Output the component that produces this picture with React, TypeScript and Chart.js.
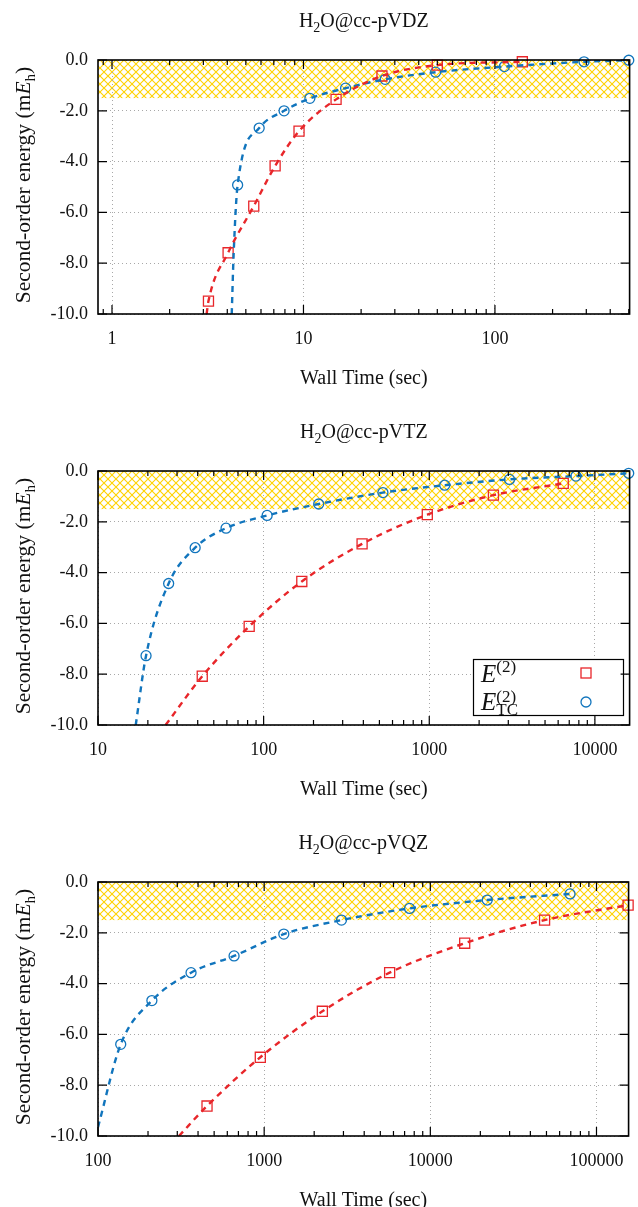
import React, { useEffect, useRef } from "react";
import { Chart, registerables } from "chart.js";

Chart.register(...registerables);

// ---------------- data ----------------
const vdzTitle = "cc-pVDZ";
const vdzXTicks = [1, 10, 100];
const vdzE2Times = [3.19, 4.04, 5.5, 7.11, 9.48, 14.8, 25.7, 50, 139];
const vdzE2 = [-9.49, -7.59, -5.75, -4.17, -2.8, -1.55, -0.63, -0.2, -0.07];
const vdzTCTimes = [4.53, 5.87, 7.92, 10.8, 16.6, 26.7, 49, 112, 292, 500];
const vdzTC = [-4.92, -2.68, -2.0, -1.51, -1.11, -0.76, -0.48, -0.26, -0.07, -0.01];
const vdzE2FitTimes = [3.12, 3.19, 4.04, 5.5, 7.11, 9.48, 14.8, 25.7, 50, 139];
const vdzE2Fit = [-10.0, -9.49, -7.59, -5.75, -4.17, -2.8, -1.55, -0.63, -0.2, -0.07];
const vdzTCFitTimes = [4.22, 4.32, 4.53, 5.87, 7.92, 10.8, 16.6, 26.7, 49, 112, 292, 500];
const vdzTCFit = [-10.0, -7.6, -4.92, -2.68, -2.0, -1.51, -1.11, -0.76, -0.48, -0.26, -0.07, -0.01];

const vtzTitle = "cc-pVTZ";
const vtzXTicks = [10, 100, 1000, 10000];
const vtzE2Times = [42.6, 81.8, 170, 393, 973, 2440, 6440];
const vtzE2 = [-8.08, -6.12, -4.35, -2.87, -1.72, -0.95, -0.49];
const vtzTCTimes = [19.5, 26.7, 38.6, 59.3, 105, 215, 525, 1240, 3050, 7680, 16000];
const vtzTC = [-7.27, -4.43, -3.02, -2.25, -1.75, -1.3, -0.85, -0.56, -0.33, -0.2, -0.09];
const vtzE2FitTimes = [25.6, 42.6, 81.8, 170, 393, 973, 2440, 6440];
const vtzE2Fit = [-10.0, -8.08, -6.12, -4.35, -2.87, -1.72, -0.95, -0.49];
const vtzTCFitTimes = [16.9, 19.5, 26.7, 38.6, 59.3, 105, 215, 525, 1240, 3050, 7680, 16000];
const vtzTCFit = [-10.0, -7.27, -4.43, -3.02, -2.25, -1.75, -1.3, -0.85, -0.56, -0.33, -0.2, -0.09];

const vqzTitle = "cc-pVQZ";
const vqzXTicks = [100, 1000, 10000, 100000];
const vqzE2Times = [453, 948, 2240, 5690, 16100, 48700, 155000];
const vqzE2 = [-8.82, -6.9, -5.09, -3.57, -2.41, -1.5, -0.91];
const vqzTCTimes = [137, 211, 363, 659, 1313, 2920, 7500, 22000, 69300];
const vqzTC = [-6.39, -4.67, -3.57, -2.91, -2.05, -1.5, -1.04, -0.71, -0.47];
const vqzE2FitTimes = [307, 453, 948, 2240, 5690, 16100, 48700, 155000];
const vqzE2Fit = [-10.0, -8.82, -6.9, -5.09, -3.57, -2.41, -1.5, -0.91];
const vqzTCFitTimes = [100, 137, 211, 363, 659, 1313, 2920, 7500, 22000, 69300];
const vqzTCFit = [-9.65, -6.39, -4.67, -3.57, -2.91, -2.05, -1.5, -1.04, -0.71, -0.47];

const yTicks = [0, -2, -4, -6, -8, -10];
const hatchLimit = -1.5;

// ---------------- style ----------------
const FONT = "'Liberation Serif', 'DejaVu Serif', serif";
const RED = "#e8262a";
const BLUE = "#1175bd";
const GOLD = "#ffd200";
const GRID = "#a8a8a8";
const PANEL_H = 411;
const PANEL_W = 638;

type Seg = { t: string; size: number; italic?: boolean; dy?: number };

function drawRich(ctx: CanvasRenderingContext2D, segs: Seg[], x: number, y: number, align: "center" | "left") {
  ctx.save();
  ctx.textBaseline = "alphabetic";
  ctx.textAlign = "left";
  let total = 0;
  const widths = segs.map((s) => {
    ctx.font = `${s.italic ? "italic " : ""}${s.size}px ${FONT}`;
    const w = ctx.measureText(s.t).width;
    total += w;
    return w;
  });
  let cx = align === "center" ? x - total / 2 : x;
  segs.forEach((s, i) => {
    ctx.font = `${s.italic ? "italic " : ""}${s.size}px ${FONT}`;
    ctx.fillText(s.t, cx, y + (s.dy || 0));
    cx += widths[i];
  });
  ctx.restore();
}

function minorTicks(min: number, max: number): { v: number; major: boolean }[] {
  const out: { v: number; major: boolean }[] = [];
  const lo = Math.floor(Math.log10(min));
  const hi = Math.ceil(Math.log10(max));
  for (let e = lo; e <= hi; e++) {
    for (let m = 1; m <= 9; m++) {
      const v = m * Math.pow(10, e);
      if (v >= min * 0.999 && v <= max * 1.001) out.push({ v, major: m === 1 });
    }
  }
  return out;
}

type Panel = {
  title: string;
  xMin: number;
  xMax: number;
  xTicks: number[];
  e2T: number[];
  e2: number[];
  tcT: number[];
  tc: number[];
  e2FitT: number[];
  e2Fit: number[];
  tcFitT: number[];
  tcFit: number[];
  legend: boolean;
};

const panels: Panel[] = [
  { title: vdzTitle, xMin: 0.845, xMax: 505, xTicks: vdzXTicks, e2T: vdzE2Times, e2: vdzE2, tcT: vdzTCTimes, tc: vdzTC, e2FitT: vdzE2FitTimes, e2Fit: vdzE2Fit, tcFitT: vdzTCFitTimes, tcFit: vdzTCFit, legend: false },
  { title: vtzTitle, xMin: 10, xMax: 16200, xTicks: vtzXTicks, e2T: vtzE2Times, e2: vtzE2, tcT: vtzTCTimes, tc: vtzTC, e2FitT: vtzE2FitTimes, e2Fit: vtzE2Fit, tcFitT: vtzTCFitTimes, tcFit: vtzTCFit, legend: true },
  { title: vqzTitle, xMin: 100, xMax: 156000, xTicks: vqzXTicks, e2T: vqzE2Times, e2: vqzE2, tcT: vqzTCTimes, tc: vqzTC, e2FitT: vqzE2FitTimes, e2Fit: vqzE2Fit, tcFitT: vqzTCFitTimes, tcFit: vqzTCFit, legend: false },
];

const pts = (xs: number[], ys: number[]) => xs.map((x, i) => ({ x, y: ys[i] }));

function makeDecor(p: Panel) {
  return {
    id: "decor",
    beforeDraw(chart: any) {
      const { ctx, chartArea: a, scales } = chart;
      const c = document.createElement("canvas");
      c.width = 8;
      c.height = 8;
      const g = c.getContext("2d")!;
      g.strokeStyle = GOLD;
      g.lineWidth = 1.1;
      g.beginPath();
      g.moveTo(0, 0);
      g.lineTo(8, 8);
      g.moveTo(8, 0);
      g.lineTo(0, 8);
      g.stroke();
      const pat = ctx.createPattern(c, "repeat");
      const y0 = scales.y.getPixelForValue(0);
      const y1 = scales.y.getPixelForValue(hatchLimit);
      ctx.save();
      ctx.beginPath();
      ctx.rect(a.left, a.top, a.right - a.left, a.bottom - a.top);
      ctx.clip();
      ctx.fillStyle = pat;
      ctx.fillRect(a.left, y0, a.right - a.left, y1 - y0);
      ctx.restore();
    },
    afterDraw(chart: any) {
      const { ctx, chartArea: a, scales } = chart;
      const cxm = (a.left + a.right) / 2;
      ctx.save();
      ctx.fillStyle = "#111";
      // title
      drawRich(ctx, [{ t: "H", size: 20 }, { t: "2", size: 14, dy: 5 }, { t: "O@" + p.title, size: 20 }], cxm, 27, "center");
      // x label
      drawRich(ctx, [{ t: "Wall Time (sec)", size: 20 }], cxm, 384, "center");
      // y label
      ctx.save();
      ctx.translate(30, (a.top + a.bottom) / 2 - 2);
      ctx.rotate(-Math.PI / 2);
      drawRich(
        ctx,
        [
          { t: "Second-order energy (m", size: 21.5 },
          { t: "E", size: 21.5, italic: true },
          { t: "h", size: 15, dy: 5 },
          { t: ")", size: 21.5 },
        ],
        0,
        0,
        "center"
      );
      ctx.restore();

      // legend
      if (p.legend) {
        const bx = 473, by = 248, bw = 150, bh = 56;
        ctx.fillStyle = "#fff";
        ctx.fillRect(bx, by, bw, bh);
        ctx.strokeStyle = "#000";
        ctx.lineWidth = 1.2;
        ctx.strokeRect(bx + 0.5, by + 0.5, bw, bh);
        ctx.fillStyle = "#111";
        drawRich(ctx, [{ t: "E", size: 25, italic: true }, { t: "(2)", size: 17, dy: -10 }], bx + 8, by + 23, "left");
        drawRich(ctx, [{ t: "E", size: 25, italic: true }], bx + 8, by + 51, "left");
        ctx.font = `italic 25px ${FONT}`;
        const ew = ctx.measureText("E").width;
        drawRich(ctx, [{ t: "(2)", size: 17 }], bx + 8 + ew, by + 43, "left");
        drawRich(ctx, [{ t: "TC", size: 17 }], bx + 8 + ew, by + 56, "left");
        ctx.strokeStyle = RED;
        ctx.lineWidth = 1.3;
        ctx.strokeRect(bx + 108, by + 9, 10, 10);
        ctx.strokeStyle = BLUE;
        ctx.beginPath();
        ctx.arc(bx + 113, by + 43, 5, 0, Math.PI * 2);
        ctx.stroke();
      }

      // frame
      ctx.strokeStyle = "#000";
      ctx.lineWidth = 1.6;
      ctx.strokeRect(a.left, a.top, a.right - a.left, a.bottom - a.top);
      ctx.lineWidth = 1.2;
      ctx.beginPath();
      yTicks.forEach((v) => {
        const y = scales.y.getPixelForValue(v);
        ctx.moveTo(a.left, y);
        ctx.lineTo(a.left + 9, y);
        ctx.moveTo(a.right, y);
        ctx.lineTo(a.right - 9, y);
      });
      minorTicks(p.xMin, p.xMax).forEach(({ v, major }) => {
        const x = scales.x.getPixelForValue(v);
        const len = major ? 9 : 5;
        ctx.moveTo(x, a.bottom);
        ctx.lineTo(x, a.bottom - len);
        ctx.moveTo(x, a.top);
        ctx.lineTo(x, a.top + len);
      });
      ctx.stroke();
      ctx.restore();
    },
  };
}

function PanelChart({ p, top }: { p: Panel; top: number }) {
  const ref = useRef<HTMLCanvasElement | null>(null);
  useEffect(() => {
    if (!ref.current) return;
    const chart = new Chart(ref.current, {
      type: "scatter",
      data: {
        datasets: [
          {
            data: pts(p.e2FitT, p.e2Fit),
            showLine: true,
            pointRadius: 0,
            borderColor: RED,
            borderWidth: 2.4,
            borderDash: [6, 5],
            cubicInterpolationMode: "monotone",
            fill: false,
          } as any,
          {
            data: pts(p.tcFitT, p.tcFit),
            showLine: true,
            pointRadius: 0,
            borderColor: BLUE,
            borderWidth: 2.4,
            borderDash: [6, 5],
            cubicInterpolationMode: "monotone",
            fill: false,
          } as any,
          {
            data: pts(p.e2T, p.e2),
            showLine: false,
            clip: false,
            pointStyle: "rect",
            pointRadius: 7.1,
            pointBorderWidth: 1.3,
            pointBorderColor: RED,
            pointBackgroundColor: "rgba(0,0,0,0)",
          } as any,
          {
            data: pts(p.tcT, p.tc),
            showLine: false,
            clip: false,
            pointStyle: "circle",
            pointRadius: 5,
            pointBorderWidth: 1.3,
            pointBorderColor: BLUE,
            pointBackgroundColor: "rgba(0,0,0,0)",
          } as any,
        ],
      },
      options: {
        responsive: false,
        animation: false,
        events: [],
        layout: { padding: { top: 60, right: 6, left: 0, bottom: 0 } },
        plugins: { legend: { display: false }, tooltip: { enabled: false }, title: { display: false } },
        scales: {
          x: {
            type: "logarithmic",
            position: "bottom",
            min: p.xMin,
            max: p.xMax,
            afterBuildTicks: (s: any) => {
              s.ticks = p.xTicks.map((v) => ({ value: v, major: true }));
            },
            afterFit: (s: any) => {
              s.height = PANEL_H - 314;
            },
            ticks: {
              autoSkip: false,
              maxRotation: 0,
              padding: 14,
              color: "#111",
              font: { family: FONT, size: 18 },
              callback: (v: any) => String(v),
            },
            grid: { color: GRID, lineWidth: 1, drawTicks: false },
            border: { display: false, dash: [1, 3] },
          },
          y: {
            type: "linear",
            min: -10,
            max: 0,
            afterBuildTicks: (s: any) => {
              s.ticks = yTicks.map((v) => ({ value: v }));
            },
            afterFit: (s: any) => {
              s.width = 98;
            },
            ticks: {
              padding: 10,
              color: "#111",
              font: { family: FONT, size: 18 },
              callback: (v: any) => Number(v).toFixed(1),
            },
            grid: { color: GRID, lineWidth: 1, drawTicks: false },
            border: { display: false, dash: [1, 3] },
          },
        },
      },
      plugins: [makeDecor(p)],
    });
    return () => chart.destroy();
  }, [p]);
  return (
    <div style={{ position: "absolute", left: 0, top, width: PANEL_W, height: PANEL_H }}>
      <canvas ref={ref} width={PANEL_W} height={PANEL_H} style={{ width: PANEL_W, height: PANEL_H, display: "block" }} />
    </div>
  );
}

export default function App() {
  return (
    <div style={{ position: "absolute", left: 0, top: 0, width: 638, height: 1207, background: "#fff" }}>
      {panels.map((p, i) => (
        <PanelChart key={i} p={p} top={i * PANEL_H} />
      ))}
    </div>
  );
}
